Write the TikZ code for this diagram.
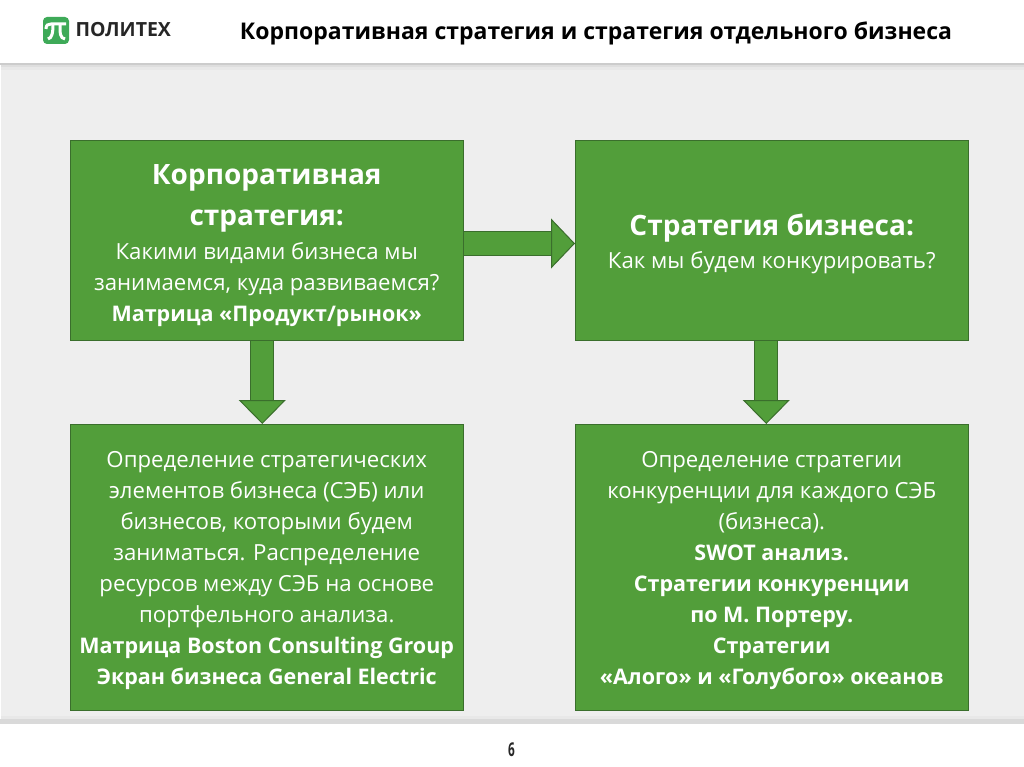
\documentclass[tikz,border=0pt]{standalone}
\usepackage{fontspec}
\setmainfont{Open Sans}
\usetikzlibrary{arrows.meta}
\definecolor{barfill}{RGB}{82,158,58}
\definecolor{bardark}{RGB}{58,110,44}
\definecolor{pagegray}{RGB}{238,238,238}
\definecolor{logogreen}{RGB}{62,170,88}
\newcommand{\headfont}{\fontsize{28}{41}\selectfont\bfseries}
\newcommand{\bodyfont}{\fontsize{22.2}{31}\selectfont}
\newcommand{\boldline}[1]{{\fontsize{21.5}{31}\selectfont\bfseries #1}}
\tikzset{
	greenbox/.style={draw=bardark,line width=1pt,fill=barfill,text=white,minimum width=392.5pt,align=center,inner sep=0pt,anchor=north west},
	bararrow/.style={draw=bardark,line width=1pt,double=barfill,double distance=22pt,-{Triangle[length=24pt,width=#1,fill=barfill,line width=1pt]}},
	bararrow/.default=47pt
}

\begin{document}
\begin{tikzpicture}[x=1pt,y=-1pt,font=\bodyfont]
	\useasboundingbox		(0,0) rectangle (1024,767);
	\fill[white]			(0,0) rectangle (1024,767);
	\fill[pagegray]			(1,64) rectangle (1024,722);
	\fill[black!20]			(0,63) rectangle (1024,65);
	\fill[black!13]			(1,65) rectangle (1024,67);
	\fill[black!9]			(1,67) rectangle (1024,70);
	\fill[black!9]			(1,716) rectangle (1024,719);
	\fill[black!15]			(0,719) rectangle (1024,724);

	\fill[logogreen, rounded corners=4pt]		(43,17) rectangle (69,44);
	\draw[white, line width=3pt]				(46,29) .. controls (46,25) and (48,24) .. (51,24) -- (66,24);
	\draw[white, line width=3pt]				(53,24) .. controls (53,33) and (52,38) .. (48,39);
	\draw[white, line width=3pt]				(60,24) .. controls (60,34) and (60,38) .. (65,39);
	\node[anchor=west, font=\fontsize{19.5}{20}\selectfont\bfseries, text=black!85] (logo) at (72,30) {ПОЛИТЕХ};
	\node[font=\fontsize{23}{26}\selectfont\bfseries, text=black] (title) at (596,33) {Корпоративная стратегия и стратегия отдельного бизнеса};

	\node[greenbox, minimum height=200pt] (corp) at (70,140) {{\headfont\rule{0pt}{31pt}Корпоративная}\\[10pt]{\headfont стратегия:}\\[3pt]Какими видами бизнеса мы\\занимаемся, куда развиваемся?\\\boldline{Матрица «Продукт/рынок»}};
	\node[greenbox, minimum height=200pt] (biz) at (575,140) {{\headfont\rule{0pt}{28pt}Стратегия бизнеса:}\\[2pt]Как мы будем конкурировать?};
	\node[greenbox, minimum height=286pt] (sbu) at (70,424) {\rule{0pt}{23pt}Определение стратегических\\элементов бизнеса (СЭБ) или\\бизнесов, которыми будем\\заниматься. Распределение\\ресурсов между СЭБ на основе\\портфельного анализа.\\\boldline{Матрица Boston Consulting Group}\\\boldline{Экран бизнеса General Electric}};
	\node[greenbox, minimum height=286pt] (comp) at (575,424) {\rule{0pt}{23pt}Определение стратегии\\конкуренции для каждого СЭБ\\(бизнеса).\\\boldline{SWOT анализ.}\\\boldline{Стратегии конкуренции}\\\boldline{по М. Портеру.}\\\boldline{Стратегии}\\\boldline{«Алого» и «Голубого» океанов}};

	\draw[bararrow=50pt]	([yshift=-3pt]corp.east) -- ([yshift=-3pt]biz.west);
	\draw[bararrow]		([xshift=-4.5pt]corp.south) -- ([xshift=-4.5pt]sbu.north);
	\draw[bararrow]		([xshift=-5.5pt]biz.south) -- ([xshift=-5.5pt]comp.north);

	\node[font=\fontsize{19}{20}\selectfont\bfseries, xscale=0.62, text=black!85] (page) at (511.5,750) {6};
\end{tikzpicture}
\end{document}
